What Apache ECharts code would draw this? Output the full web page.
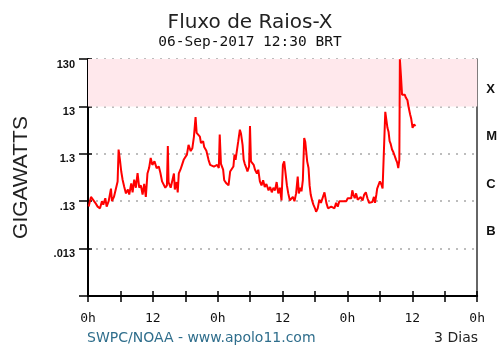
<!DOCTYPE html>
<html>
<head>
<meta charset="utf-8">
<script src="https://cdn.jsdelivr.net/npm/echarts@6/dist/echarts.min.js"></script>
<style>
	body { margin: 0; background: #fff; }
	#chart { width: 500px; height: 354px; }
</style>
</head>
<body>
<div id="chart"></div>
<script>
// horas desde 0h do primeiro dia
let hours = [0.12, 0.55, 0.86, 1.35, 1.78, 2.22, 2.58, 2.83, 3.2, 3.45, 3.82, 4.25, 4.43, 4.8, 5.17, 5.48, 5.66, 5.91, 6.15, 6.4,
	6.71, 7.02, 7.38, 7.63, 8.0, 8.25, 8.55, 8.86, 9.17, 9.48, 9.78, 10.1, 10.4, 10.7, 11.0, 11.3, 11.6, 11.9, 12.3, 12.7,
	13.1, 13.4, 13.7, 14.0, 14.3, 14.6, 14.77, 14.9, 15.3, 15.6, 15.9, 16.06, 16.4, 16.6, 16.8, 17.1, 17.4, 17.7, 18.0, 18.3,
	18.6, 19.0, 19.3, 19.6, 19.9, 20.1, 20.3, 20.7, 20.9, 21.3, 21.5, 21.9, 22.3, 22.6, 22.9, 23.3, 23.6, 23.9, 24.2, 24.37,
	24.6, 25.0, 25.2, 25.6, 26.0, 26.3, 26.6, 26.9, 27.1, 27.3, 27.6, 27.8, 28.1, 28.3, 28.6, 28.8, 29.0, 29.3, 29.5, 29.8,
	29.97, 30.15, 30.4, 30.65, 30.9, 31.25, 31.5, 31.8, 32.1, 32.4, 32.7, 33.0, 33.4, 33.7, 34.0, 34.3, 34.6, 34.9, 35.2, 35.5,
	35.8, 36.06, 36.3, 36.55, 36.8, 37.05, 37.35, 37.6, 37.9, 38.2, 38.5, 38.8, 39.0, 39.3, 39.5, 39.75, 40.0, 40.2, 40.4, 40.55,
	40.8, 41.0, 41.2, 41.5, 41.7, 42.0, 42.2, 42.5, 42.8, 43.1, 43.4, 43.75, 44.1, 44.4, 44.7, 45.0, 45.3, 45.6, 45.9, 46.2,
	46.5, 46.8, 47.1, 47.4, 47.8, 48.05, 48.4, 48.7, 48.9, 49.1, 49.35, 49.6, 49.9, 50.45, 50.8, 51.1, 51.4, 51.7, 52.0, 52.3,
	52.6, 52.9, 53.1, 53.35, 53.5, 53.8, 54.0, 54.3, 54.5, 54.8, 55.0, 55.2, 55.4, 55.6, 55.8, 56.0, 56.25, 56.5, 56.7, 57.0,
	57.2, 57.4, 57.6, 57.7, 57.9, 58.1, 58.3, 58.6, 58.8, 59.1, 59.3, 59.6, 59.8, 60.05, 60.3, 60.6]
// fluxo em gigawatts
let gigawatts = [0.10, 0.16, 0.15, 0.12, 0.10, 0.092, 0.13, 0.11, 0.15, 0.10, 0.13, 0.24, 0.13, 0.16, 0.15, 0.34, 1.6, 0.97, 0.55, 0.37,
	0.26, 0.19, 0.23, 0.18, 0.31, 0.2, 0.37, 0.25, 0.51, 0.25, 0.28, 0.18, 0.3, 0.16, 0.5, 0.65, 1.06, 0.76, 0.9, 0.65,
	0.7, 0.51, 0.34, 0.31, 0.25, 0.28, 1.9, 0.33, 0.25, 0.26, 0.5, 0.23, 0.33, 0.2, 0.5, 0.6, 0.76, 0.97, 0.9, 1.25,
	2.0, 1.48, 1.7, 3.0, 7.7, 3.6, 3.8, 3.0, 2.2, 2.4, 1.8, 1.5, 0.97, 0.76, 0.8, 0.7, 0.65, 0.76, 0.65, 3.3,
	0.8, 0.6, 0.36, 0.31, 0.28, 0.55, 0.6, 0.7, 1.25, 0.97, 1.06, 2.4, 4.2, 3.5, 2.0, 0.97, 0.8, 0.65, 0.55, 0.7,
	5.0, 0.9, 0.97, 0.76, 0.6, 0.5, 0.6, 0.34, 0.28, 0.36, 0.26, 0.3, 0.22, 0.26, 0.2, 0.25, 0.22, 0.33, 0.19, 0.25,
	0.135, 0.76, 0.9, 0.5, 0.28, 0.19, 0.135, 0.14, 0.16, 0.13, 0.19, 0.43, 0.19, 0.25, 0.21, 0.36, 2.8, 2.3, 2.4, 0.9,
	0.65, 0.28, 0.18, 0.13, 0.11, 0.092, 0.078, 0.092, 0.14, 0.12, 0.13, 0.2, 0.12, 0.092, 0.085, 0.1, 0.11, 0.092, 0.12, 0.1,
	0.13, 0.14, 0.13, 0.14, 0.13, 0.15, 0.14, 0.15, 0.22, 0.18, 0.15, 0.19, 0.14, 0.16, 0.135, 0.18, 0.2, 0.15, 0.12, 0.12,
	0.125, 0.16, 0.12, 0.18, 0.24, 0.26, 0.34, 0.29, 0.24, 0.22, 10, 9.5, 4.6, 3.8, 2.4, 2.1, 1.6, 1.4, 1.5, 0.97,
	0.85, 0.65, 0.97, 128, 57, 23, 22, 23, 20, 17.5, 12.8, 8.8, 7.1, 4.6, 5.4, 5.0]

let xTickLabels = ['0h', '', '12', '', '0h', '', '12', '', '0h', '', '12', '', '0h']
let yTickLabels = ['', '.013', '.13', '1.3', '13', '130'] // de 10^-3 a 10^2 unidades
let classLabels = ['', 'B', 'C', 'M', 'X']
let xBand = [13, 130] // faixa rosa (classe X)

// eixo log em unidades de 1.3 GW, assim as linhas caem em 0.013, 0.13 ...
let GW_UNIT = 1.3

let chart = echarts.init(document.getElementById('chart'))

let data = []
for (let i = 0; i < hours.length; i++) {
	data.push([hours[i], gigawatts[i] / GW_UNIT])
}

let option = {
	animation: false,
	title: [{
		text: 'Fluxo de Raios-X',
		left: 'center',
		top: 8,
		textStyle: { fontFamily: 'DejaVu Sans', fontSize: 20, fontWeight: 'normal', color: '#222' }
	}, {
		text: '06-Sep-2017 12:30 BRT',
		left: 'center',
		top: 30,
		textStyle: { fontFamily: 'DejaVu Sans Mono', fontSize: 14.5, fontWeight: 'normal', color: '#111' }
	}, {
		text: 'SWPC/NOAA - www.apolo11.com',
		left: 82,
		top: 326,
		textStyle: { fontFamily: 'DejaVu Sans', fontSize: 14, fontWeight: 'normal', color: '#2f6e8c' }
	}, {
		text: '3 Dias',
		right: 17,
		top: 326,
		textStyle: { fontFamily: 'DejaVu Sans', fontSize: 14, fontWeight: 'normal', color: '#222' }
	}],
	grid: { left: 88, right: 22, top: 59, bottom: 58 },
	xAxis: [{
		type: 'value',
		min: 0,
		max: 72,
		interval: 6,
		position: 'bottom',
		axisLine: { onZero: false, lineStyle: { color: '#000', width: 2 } },
		axisTick: { length: 6, lineStyle: { color: '#000', width: 1.5 } },
		axisLabel: {
			margin: 16,
			fontFamily: 'DejaVu Sans Mono',
			fontSize: 13,
			color: '#111',
			formatter: function(v) { return xTickLabels[Math.round(v / 6)] }
		},
		splitLine: { show: false }
	}, {
		type: 'value',
		min: 0,
		max: 72,
		interval: 6,
		position: 'bottom',
		axisLine: { show: false, onZero: false },
		axisTick: { inside: true, length: 5, lineStyle: { color: '#000', width: 1.5 } },
		axisLabel: { show: false },
		splitLine: { show: false }
	}],
	yAxis: [{
		type: 'log',
		logBase: 10,
		min: 0.001,
		max: 100,
		position: 'left',
		name: 'GIGAWATTS',
		nameLocation: 'middle',
		nameRotate: 90,
		nameGap: 56,
		nameTextStyle: { fontFamily: 'Liberation Sans', fontSize: 21, color: '#222' },
		axisLine: { lineStyle: { color: '#000', width: 2 } },
		axisTick: { length: 9, lineStyle: { color: '#000', width: 1.5 } },
		axisLabel: {
			margin: 13,
			verticalAlign: 'top',
			lineHeight: 11,
			fontFamily: 'Liberation Sans',
			fontSize: 11,
			fontWeight: 'bold',
			color: '#111',
			formatter: function(v) { return yTickLabels[Math.round(Math.log10(v)) + 3] }
		},
		splitLine: { show: true, lineStyle: { color: '#a8a8a8', width: 1.5, type: [2, 6] } }
	}, {
		type: 'log',
		logBase: 10,
		min: 0.001,
		max: 100,
		position: 'left',
		axisLine: { show: false },
		axisTick: { inside: true, length: 4, lineStyle: { color: '#000', width: 1.5 } },
		axisLabel: { show: false },
		splitLine: { show: false }
	}, {
		type: 'category',
		data: classLabels,
		position: 'right',
		axisLine: { lineStyle: { color: '#333', width: 1.5 } },
		axisTick: { show: false },
		axisLabel: {
			margin: 9,
			verticalAlign: 'top',
			lineHeight: 13,
			fontFamily: 'Liberation Sans',
			fontSize: 13,
			fontWeight: 'bold',
			color: '#111'
		},
		splitLine: { show: false }
	}],
	series: [{
		type: 'line',
		xAxisIndex: 0,
		yAxisIndex: 0,
		showSymbol: false,
		lineStyle: { color: '#ff0000', width: 2 },
		data: data,
		markArea: {
			silent: true,
			itemStyle: { color: '#ffe8ec' },
			data: [[{ yAxis: xBand[0] / GW_UNIT }, { yAxis: xBand[1] / GW_UNIT }]]
		}
	}]
}

chart.setOption(option)
</script>
</body>
</html>
